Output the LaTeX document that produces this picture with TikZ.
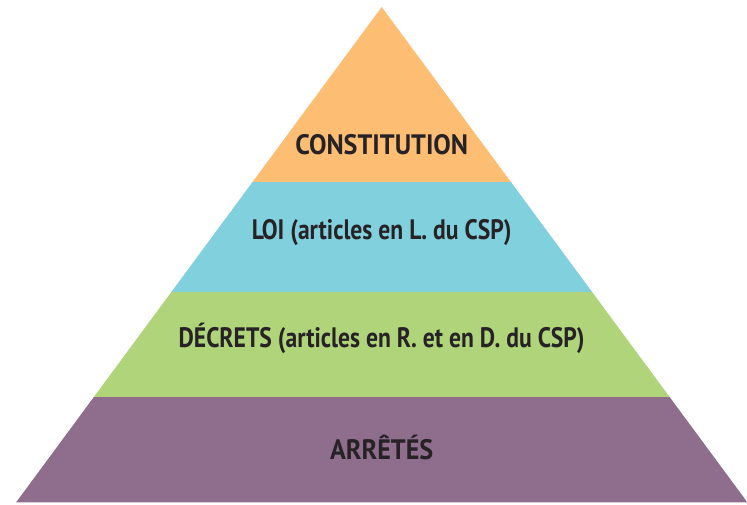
\documentclass[tikz,border=0pt]{standalone}
\usepackage{fontspec}
\setmainfont[FakeStretch=0.84]{PT Sans}
\newfontfamily\capsfont[FakeStretch=0.93]{PT Sans}
\usetikzlibrary{positioning}
\definecolor{constorange}{RGB}{253,190,116}
\definecolor{loiblue}{RGB}{128,208,222}
\definecolor{decretgreen}{RGB}{175,212,122}
\definecolor{arretepurple}{RGB}{142,110,140}
\definecolor{labeldark}{RGB}{38,34,38}

\begin{document}
\begin{tikzpicture}[every node/.style={font=\bfseries\fontsize{16}{18}\selectfont,text=labeldark,inner sep=0pt}]
        \useasboundingbox (0,0) rectangle (14.94,10.1);
        % Bands, clipped to the pyramid
        \begin{scope}
          \clip (0.32,0.05) -- (7.634,9.96) -- (14.95,0.05) -- cycle;
          \fill[arretepurple] (0,0) rectangle (14.94,2.16);
          \fill[decretgreen] (0,2.16) rectangle (14.94,4.26);
          \fill[loiblue] (0,4.26) rectangle (14.94,6.46);
          \fill[constorange] (0,6.46) rectangle (14.94,10.1);
        \end{scope}
        % Labels
        \node[font=\capsfont\bfseries\fontsize{16}{18}\selectfont] (constitution) at (7.634,7.20) {CONSTITUTION};
        \node (loi) at (7.634,5.44) {LOI (articles en L. du CSP)};
        \node (decrets) at (7.634,3.34) {DÉCRETS (articles en R. et en D. du CSP)};
        \node[font=\capsfont\bfseries\fontsize{16}{18}\selectfont] (arretes) at (7.634,1.16) {ARRÊTÉS};
      \end{tikzpicture}
\end{document}
